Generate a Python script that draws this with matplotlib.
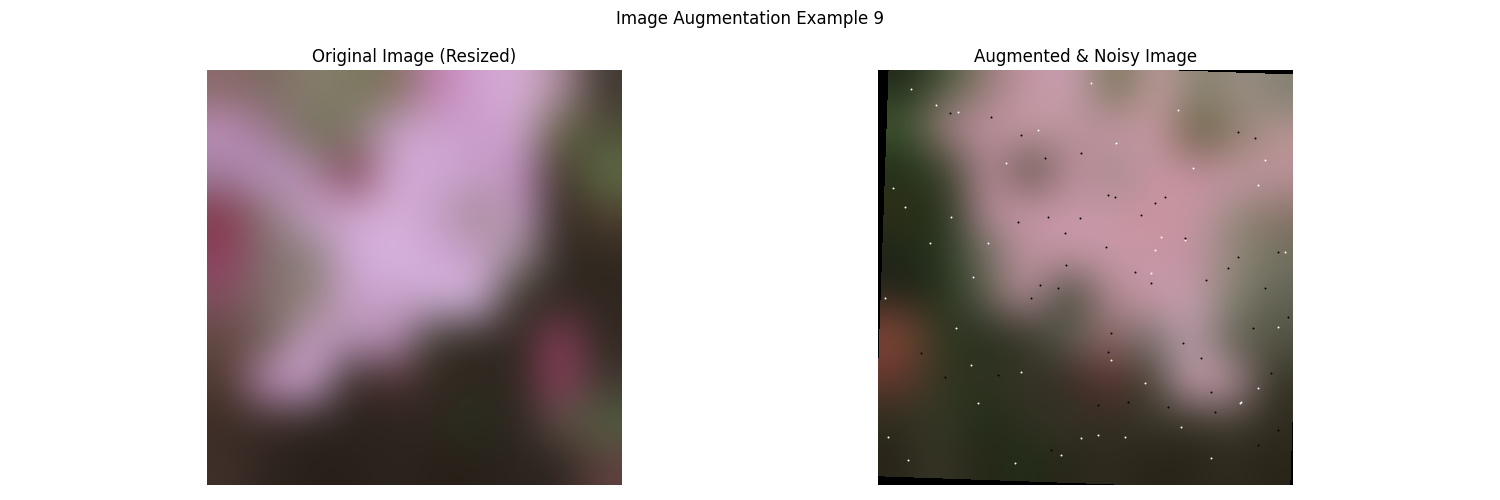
import numpy as np
import matplotlib
matplotlib.use("Agg")
import matplotlib.pyplot as plt
from matplotlib.colors import to_rgb
from matplotlib.transforms import Affine2D

# coarse colour grids (rows top -> bottom)
orig_grid = [
    ["#8a6a6a", "#7a6a60", "#8a8070", "#7a7a60", "#80705a", "#c080b0", "#d0a0d0", "#d8b0d8", "#b090a0", "#403830"],
    ["#c090c0", "#a07890", "#707058", "#80786a", "#c8a0c8", "#d0a8d0", "#c898c8", "#d0a8d0", "#606040", "#505038"],
    ["#a080a0", "#c098c8", "#b08aa8", "#804050", "#d0a8d0", "#d0a8d8", "#c8a0c8", "#c090c0", "#403028", "#607048"],
    ["#803848", "#8a7a78", "#c8a0c8", "#d0a8d0", "#d8b0d8", "#c8a0c8", "#a08890", "#c8a0c8", "#302820", "#504030"],
    ["#904060", "#807070", "#8a8078", "#d0a8d8", "#d8b8e0", "#d0a8d8", "#c8a0c8", "#a09098", "#302820", "#302820"],
    ["#805060", "#807068", "#908078", "#c8a0c8", "#c8a0c8", "#d0b0d8", "#d8b8e0", "#303020", "#302820", "#302820"],
    ["#604840", "#706058", "#c8a0c8", "#b090b0", "#b890b8", "#383828", "#302820", "#302820", "#904060", "#302820"],
    ["#503830", "#c090c0", "#d0a8d0", "#302820", "#503030", "#302820", "#302820", "#302820", "#904060", "#403830"],
    ["#3a2c24", "#3a2c24", "#2c241e", "#2c241e", "#2c241e", "#302820", "#283020", "#2c241e", "#605048", "#506040"],
    ["#40302a", "#2c241e", "#282018", "#282018", "#2c241e", "#282018", "#282018", "#2c2420", "#2c241e", "#604040"],
]

aug_grid = [
    ["#202818", "#506040", "#a08080", "#c898a8", "#c8a0b0", "#707050", "#c8a0a8", "#808068", "#a09088", "#808070"],
    ["#405830", "#b08890", "#c090a0", "#c8a0a8", "#b89098", "#c898a8", "#c898a0", "#605838", "#908070", "#c09898"],
    ["#203018", "#404830", "#c090a0", "#504838", "#c090a0", "#a08888", "#c898a8", "#c890a0", "#c89aa8", "#b89098"],
    ["#303018", "#203018", "#c090a0", "#c898a8", "#c898a8", "#c898a8", "#c89098", "#c898a8", "#908878", "#807060"],
    ["#202818", "#283820", "#707060", "#c090a0", "#c898a8", "#c898a8", "#c898a8", "#c090a0", "#908878", "#707060"],
    ["#202018", "#203018", "#606050", "#c898a8", "#304028", "#b08890", "#c898a8", "#c8a0b0", "#808070", "#606050"],
    ["#804838", "#303820", "#283020", "#303020", "#606058", "#906868", "#707068", "#c0a0b0", "#606050", "#505040"],
    ["#703830", "#303820", "#303020", "#383828", "#302820", "#603030", "#383828", "#c8a0b0", "#c098a8", "#303020"],
    ["#303020", "#383828", "#203018", "#302c20", "#383828", "#302c20", "#383828", "#302c20", "#383828", "#302c20"],
    ["#282418", "#383828", "#282418", "#203018", "#282418", "#302c20", "#282418", "#282418", "#302c20", "#282418"],
]

# salt & pepper specks on the augmented image (pixel positions in a 415 px frame)
salt_x = [33, 58, 80, 128, 110, 52, 15, 27, 73, 95, 7, 78, 93, 100, 143, 203, 220, 247, 363, 380,
          362, 283, 307, 277, 238, 315, 380, 387, 400, 407, 160, 213, 300, 333, 183, 10, 30, 137,
          267, 303, 273, 233]
salt_y = [19, 35, 42, 93, 173, 173, 118, 137, 147, 207, 228, 258, 295, 333, 302, 368, 365, 367, 332,
          318, 333, 167, 170, 180, 73, 98, 115, 90, 257, 182, 60, 13, 40, 388, 385, 367, 390, 393,
          313, 357, 203, 290]
pepper_x = [113, 143, 167, 203, 230, 237, 263, 277, 287, 307, 328, 350, 387, 400, 360, 180, 162, 153,
            188, 228, 257, 273, 233, 230, 305, 323, 333, 393, 375, 410, 67, 43, 120, 173, 220, 250,
            290, 337, 400, 380, 140, 170, 187, 202, 72, 377, 360]
pepper_y = [47, 65, 88, 83, 125, 127, 145, 133, 127, 168, 210, 198, 218, 182, 187, 218, 215, 228,
            195, 177, 202, 213, 263, 282, 273, 288, 322, 303, 258, 247, 307, 283, 305, 380, 335, 332,
            337, 342, 360, 375, 152, 147, 163, 148, 43, 68, 62]

size = 415


def to_img(grid):
    return np.array([[to_rgb(c) for c in row] for row in grid])


fig, axes = plt.subplots(1, 2, figsize=(15, 5))

ax = axes[0]
ax.imshow(to_img(orig_grid), extent=(0, size, size, 0), interpolation="bicubic")
ax.set_title("Original Image (Resized)")
ax.axis("off")

ax = axes[1]
ax.imshow(np.zeros((1, 1, 3)), extent=(0, size, size, 0))
im = ax.imshow(to_img(aug_grid), extent=(0, size, size, 0), interpolation="bicubic")
# slight rotation + shift leaves black wedges at the borders
rot = Affine2D().scale(1.0).rotate_deg_around(size / 2, size / 2, 2).translate(4, -2)
im.set_transform(rot + ax.transData)
ax.scatter(salt_x, salt_y, s=2, c="white", linewidths=0)
ax.scatter(pepper_x, pepper_y, s=2, c="black", linewidths=0)
ax.set_xlim(0, size)
ax.set_ylim(size, 0)
ax.set_title("Augmented & Noisy Image")
ax.axis("off")

fig.suptitle("Image Augmentation Example 9")
plt.tight_layout()
plt.savefig("out.png")
